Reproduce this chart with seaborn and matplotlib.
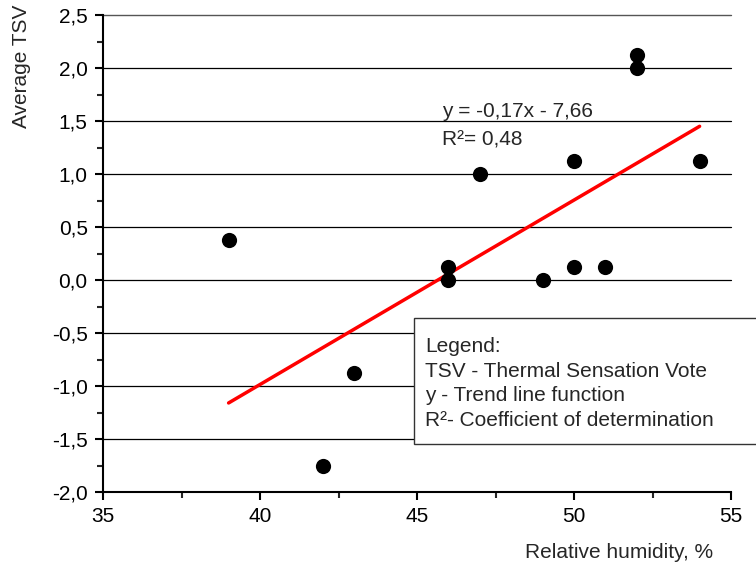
import matplotlib
matplotlib.use("Agg")
import matplotlib.pyplot as plt
import seaborn as sns
import pandas as pd
from matplotlib.ticker import MultipleLocator, FuncFormatter
from matplotlib.patches import Rectangle

humidity = [39, 42, 43, 46, 46, 47, 49, 50, 50, 51, 52, 52, 54]
tsv = [0.375, -1.75, -0.875, 0.125, 0.0, 1.0, 0.0, 1.125, 0.125, 0.125, 2.125, 2.0, 1.125]
trend_x = [39, 54]
trend_y = [-1.16, 1.45]
eq_text = "y = -0,17x - 7,66"
r2_text = "R\u00b2= 0,48"
legend_lines = ["Legend:", "TSV - Thermal Sensation Vote", "y - Trend line function",
                "R\u00b2- Coefficient of determination"]

sns.set_style("ticks")
plt.rcParams['font.family'] = ['Liberation Sans', 'DejaVu Sans']
FS = 15
plt.rcParams['font.size'] = FS

fig = plt.figure(figsize=(7.56, 5.66), dpi=100)
ax = fig.add_axes([103/756, 1-492/566, (731-103)/756, (492-15)/566])

df = pd.DataFrame({"x": humidity, "y": tsv})
tdf = pd.DataFrame({"x": trend_x, "y": trend_y})

ax.set_xlim(35, 55)
ax.set_ylim(-2.0, 2.5)
ax.yaxis.set_major_locator(MultipleLocator(0.5))
ax.yaxis.set_minor_locator(MultipleLocator(0.25))
ax.xaxis.set_major_locator(MultipleLocator(5))
ax.xaxis.set_minor_locator(MultipleLocator(2.5))
ax.yaxis.set_major_formatter(FuncFormatter(lambda v, p: f"{v:.1f}".replace(".", ",")))
ax.xaxis.set_major_formatter(FuncFormatter(lambda v, p: f"{v:.0f}"))

for yv in [-1.5, -1.0, -0.5, 0.0, 0.5, 1.0, 1.5, 2.0]:
    ax.axhline(yv, color="black", lw=0.9, zorder=1, clip_on=False)
ax.axhline(2.5, color="#555555", lw=1.0, zorder=1, clip_on=False)

sns.lineplot(data=tdf, x="x", y="y", ax=ax, color="#ff0000", lw=2.5, zorder=2)
sns.scatterplot(data=df, x="x", y="y", ax=ax, color="black", s=120, edgecolor="black",
                linewidth=0, zorder=3)

ax.set_xlabel("")
ax.set_ylabel("")
for s in ["top", "right"]:
    ax.spines[s].set_visible(False)
for s in ["left", "bottom"]:
    ax.spines[s].set_linewidth(1.5)
    ax.spines[s].set_color("black")
ax.tick_params(which="major", direction="out", length=6, width=1.5, labelsize=FS,
               colors="black", pad=5)
ax.tick_params(which="minor", direction="out", length=4, width=1.5)

ax.text(45.8, 1.54, eq_text, fontsize=FS, va="baseline", ha="left")
ax.text(45.8, 1.27, r2_text, fontsize=FS, va="baseline", ha="left")

fig.text(0.029, 1-5/566, "Average TSV", rotation=90, va="top", ha="center", fontsize=FS)
fig.text(713/756, 1-558/566, "Relative humidity, %", va="baseline", ha="right", fontsize=FS)

rect = Rectangle((414/756, 1-444/566), 0.5, (444-318)/566, transform=fig.transFigure,
                 facecolor="white", edgecolor="#333333", lw=1.0, zorder=5)
fig.patches.append(rect)
ys = [352, 377, 401, 426]
for t, yp in zip(legend_lines, ys):
    fig.text(425/756, 1-yp/566, t, va="baseline", ha="left", fontsize=FS, zorder=6)

fig.savefig("out.png", dpi=100)
